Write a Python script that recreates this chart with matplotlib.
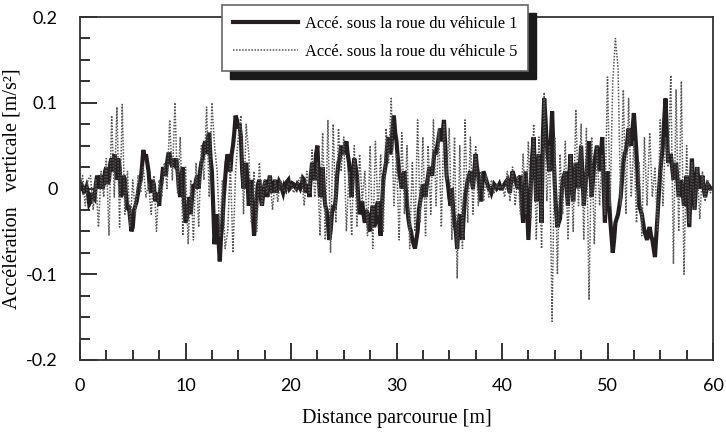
import numpy as np
import matplotlib.pyplot as plt
from matplotlib.patches import Rectangle
from matplotlib.ticker import MultipleLocator

# accelerations, in 1e-3 m/s^2, one value every 0.25 m
acc_v1 = [
    0, 2, -3, -5,  -15, -10, 5, 10,  15, 5, 25, 10,  35, 40, 10, 25,
    -5, 10, -25, -35,  -45, -20, -5, 10,  45, 40, 20, -5,  5, -10, -20, 10,
    20, 30, 40, 25,  30, 20, -10, 25,  -40, -20, -30, 5,  10, 0, 30, 50,
    40, 65, 20, -65,  -30, -85, -40, 10,  40, 20, 50, 85,  70, 60, 0, 30,
    -20, 10, -55, -10,  10, -20, 5, -10,  15, -5, 10, 0,  5, -5, 0, 10,
    2, 5, 0, 3,  5, 10, 0, -10,  30, 10, 50, -10,  25, -20, -40, -50,
    -20, -10, 30, 50,  40, 55, 30, -10,  35, 15, -30, -15,  -40, -30, -50, -20,
    -40, -15, -55, 10,  30, 60, 45, 85,  55, 20, 0, 20,  -20, -45, -60, -70,
    -50, -15, 5, -10,  15, 20, 30, 40,  60, 55, 80, 15,  -10, 0, -40, -70,
    -30, -60, -10, 10,  20, 0, 40, 15,  -15, 20, 10, 0,  -5, 5, 0, 5,
    0, 5, 10, -5,  20, 10, 0, 15,  -40, 20, -60, 10,  60, -15, 40, -40,
    105, 50, 20, 90,  5, -45, -35, 10,  20, -20, 40, -15,  30, 0, 50, -20,
    15, 55, -10, 30,  50, 20, 60, -40,  20, -35, -75, -40,  -30, -10, 30, 45,
    70, 50, 88, 40,  -20, -30, -50, -60,  -45, -60, -80, -30,  20, 50, 105, 30,
    40, 10, 30, -10,  10, -20, 15, -45,  35, -25, 25, 0,  15, -10, 5, 0,
    0,
]
# vehicle 1, extra readings halfway between the ones above (0.125 m, 0.375 m, ...)
acc_v1_mid = [
    5, -4, 2, -18,  -5, -12, 15, 0,  0, 20, 5, 30,  20, 30, 35, -10,
    15, -10, -20, -50,  -25, -15, 5, 25,  35, 30, 0, 10,  -15, -5, 0, 25,
    15, 40, 30, 35,  35, 0, 15, -20,  -35, -10, -10, 0,  15, 20, 35, 55,
    60, 35, -20, -45,  -60, -55, -10, 30,  25, 40, 65, 80,  75, 20, 15, 10,
    -5, -30, -35, 5,  -10, -5, 10, 5,  0, 5, -5, 8,  0, 3, 8, 0,
    6, 2, 5, 0,  12, -5, 5, 15,  15, 40, 15, 5,  -5, -25, -60, -30,
    -25, 15, 35, 45,  50, 40, 10, 20,  25, -10, -25, -30,  -25, -45, -30, -45,
    -20, -40, -20, 20,  50, 40, 70, 65,  35, 10, 15, 0,  -35, -50, -65, -60,
    -25, -5, -5, 5,  25, 15, 45, 50,  70, 65, 50, 5,  -20, -25, -50, -45,
    -45, -30, 0, 15,  10, 20, 25, 0,  5, 15, 5, 0,  0, 3, 2, 0,
    3, 8, 0, 10,  15, 5, 10, -20,  -10, -20, -25, 40,  20, 15, 0, 60,
    80, 35, 55, 45,  -25, -40, -10, 15,  0, 15, 10, 10,  15, 25, 15, 0,
    35, 20, 10, 40,  35, 40, 10, -10,  -10, -55, -60, -35,  -20, 10, 40, 55,
    60, 70, 65, 10,  -25, -40, -55, -50,  -55, -70, -55, -5,  35, 80, 65, 35,
    25, 20, 10, 0,  -5, -5, -15, -5,  5, 0, 10, 8,  0, -2, 3, 0,
]
acc_v5 = [
    0, 15, -20, 10,  15, -25, 10, -45,  20, -10, 35, -55,  85, -10, 95, -45,
    98, -30, 20, -45,  10, -30, 15, -5,  25, -10, 5, -30,  15, -50, 10, -10,
    30, 0, 80, 10,  100, -5, 60, -55,  25, -65, 10, -60,  30, -45, 50, 10,
    95, -10, 100, 50,  20, -55, 10, -70,  -50, 30, -75, 20,  60, 85, -30, 75,
    40, -40, 20, -50,  30, -20, 10, -5,  15, -25, 10, -15,  10, 0, -5, 5,
    5, -5, 0, 10,  15, -20, 20, -5,  45, -10, 30, -55,  65, -60, 80, -75,
    75, -40, 70, 20,  60, -50, 20, -55,  50, -45, 40, -15,  20, -55, 50, -70,
    55, -30, 40, -50,  70, 30, 105, -20,  40, -60, 65, -30,  50, -70, 30, -50,
    80, -40, 60, -55,  50, -30, 80, -20,  70, -45, 75, 10,  70, -60, 60, -105,
    50, -70, 80, -40,  60, -30, 50, -20,  20, -15, 15, -10,  10, -5, 5, 0,
    5, -10, 20, -15,  25, -20, 15, -30,  40, -30, 55, -35,  75, -60, 60, -70,
    112, -15, 50, -155,  60, -100, 40, -30,  55, -60, 40, -50,  92, -20, 75, -60,
    70, -130, 60, -65,  50, -20, 40, -30,  130, -20, 125, 175,  140, -20, 115, -30,
    105, -10, 55, -40,  30, -55, 60, -20,  65, -10, 25, -50,  80, -20, 60, 25,
    132, -88, 115, -50,  125, -100, 50, -40,  30, -25, 25, -35,  20, -15, 10, -5,
    0,
]
x_max = 60
ytick_vals = [-0.2, -0.1, 0, 0.1, 0.2]
ytick_labels = ['-0.2', '-0.1', '0', '0.1', '0.2']
xtick_vals = [0, 10, 20, 30, 40, 50, 60]
labels = ['Accé. sous la roue du véhicule 1', 'Accé. sous la roue du véhicule 5']

serif = ['Liberation Serif', 'DejaVu Serif']
sans = ['Lato', 'DejaVu Sans']

# merge the two sets of vehicle 1 readings along the distance axis
x_main = np.linspace(0, x_max, len(acc_v1))
x_mid = x_main[:-1] + (x_main[1] - x_main[0]) / 2
order = np.argsort(np.concatenate([x_main, x_mid]))
x1 = np.concatenate([x_main, x_mid])[order]
a1 = np.concatenate([acc_v1, acc_v1_mid])[order] / 1000.0

x5 = np.linspace(0, x_max, len(acc_v5))
a5 = np.array(acc_v5) / 1000.0

fig = plt.figure(figsize=(7.26, 4.32), dpi=100)
ax = fig.add_axes([80 / 726, 1 - 360 / 432, 633 / 726, 343 / 432])

l1, = ax.plot(x1, a1, color='#231f20', lw=3.0, solid_joinstyle='miter', label=labels[0])
l5, = ax.plot(x5, a5, color='#555555', lw=1.1, ls=(0, (1, 1)), label=labels[1])

ax.set_xlim(0, x_max)
ax.set_ylim(-0.2, 0.2)
ax.set_yticks(ytick_vals)
ax.set_yticklabels(ytick_labels)
ax.set_xticks(xtick_vals)
ax.xaxis.set_minor_locator(MultipleLocator(2.5))
ax.yaxis.set_minor_locator(MultipleLocator(0.025))
ax.tick_params(which='both', direction='in', width=1.3, color='#222222',
               top=False, right=False)
ax.tick_params(which='major', length=12, labelsize=13)
ax.tick_params(which='minor', length=7)
ax.tick_params(axis='y', which='major', pad=16)
ax.tick_params(axis='x', which='major', pad=13)
for lab in ax.get_xticklabels() + ax.get_yticklabels():
    lab.set_family(sans)
for sp in ax.spines.values():
    sp.set_linewidth(1.3)
    sp.set_color('#333333')

ax.set_xlabel('Distance parcourue [m]', family=serif, fontsize=14.5, labelpad=11)
ax.set_ylabel('Accélération   verticale [m/s²]', family=serif, fontsize=14.5, labelpad=3)

# legend box with a hard black shadow
leg = ax.legend(handles=[l1, l5], loc='upper left',
                bbox_to_anchor=(222 / 726, 1 - 5 / 432),
                bbox_transform=fig.transFigure, borderaxespad=0,
                fancybox=False, framealpha=1, edgecolor='#666666',
                prop={'family': serif, 'size': 11.8}, handlelength=4.0,
                handletextpad=0.4, labelspacing=0.75, borderpad=0.65)
leg.get_frame().set_linewidth(1.2)
leg.set_zorder(6)

fig.canvas.draw()
bb = leg.get_window_extent()
ax.add_patch(Rectangle(((bb.x0 + 8) / 726, (bb.y0 - 8) / 432),
                       bb.width / 726, bb.height / 432,
                       transform=fig.transFigure, color='#1a1a1a',
                       clip_on=False, zorder=5))

fig.savefig('out.png', dpi=100)
